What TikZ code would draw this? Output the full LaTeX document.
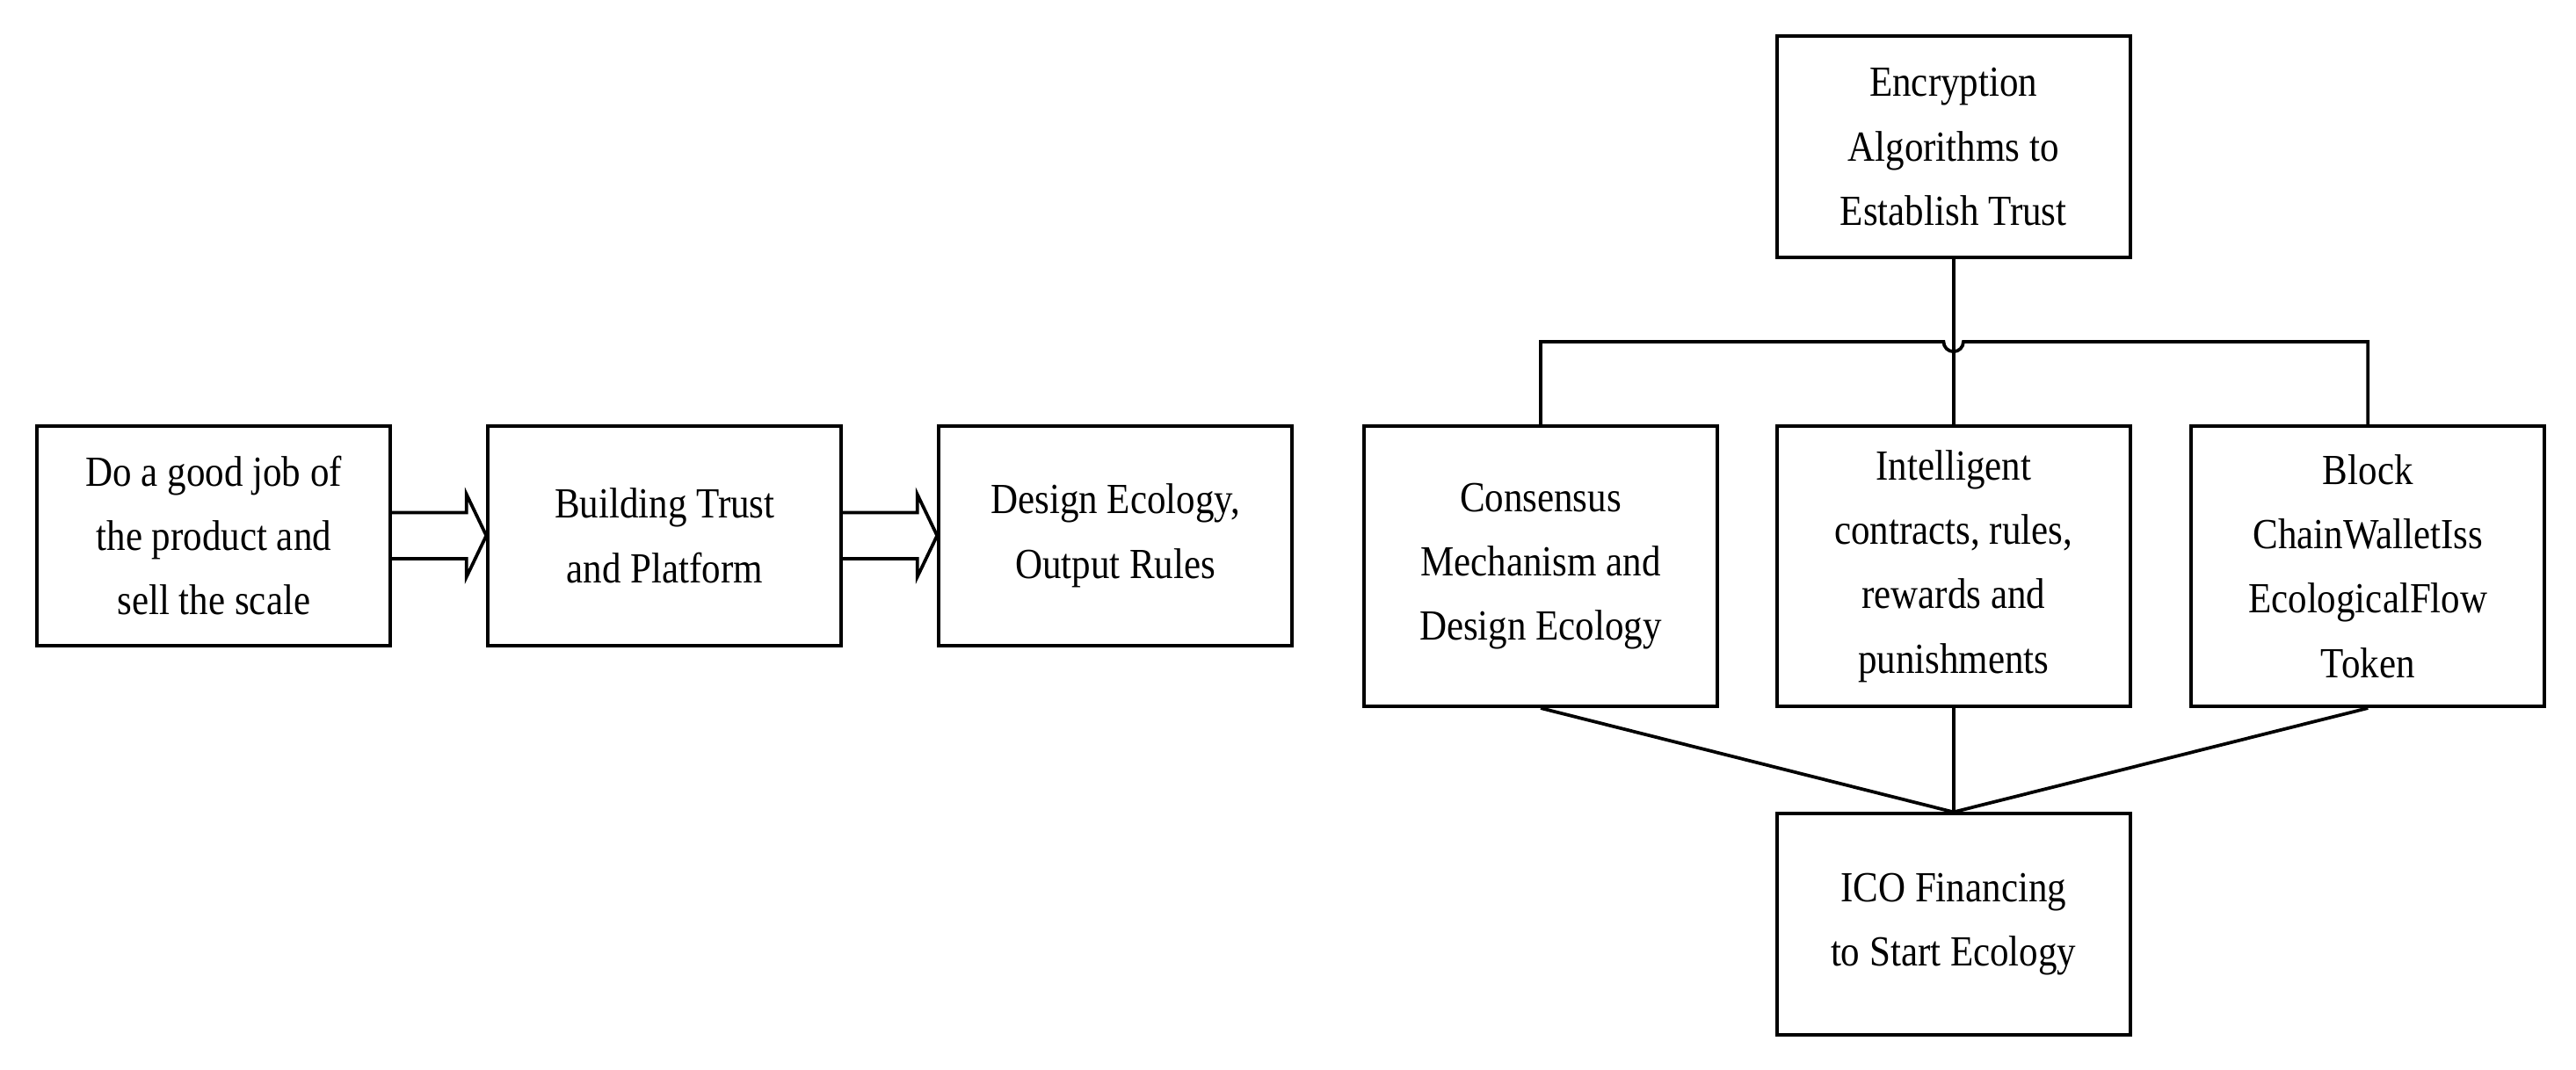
\documentclass[tikz,border=0pt]{standalone}
\usepackage{fontspec}
\setmainfont{Liberation Serif}[FakeStretch=0.88]
\usetikzlibrary{calc}
\begin{document}
\begin{tikzpicture}[x=1pt,y=-1pt,
  box/.style={draw,line width=2pt,minimum width=214pt,align=center,font=\fontsize{26}{39}\selectfont,inner sep=0pt},
  ln/.style={line width=2pt}]
\useasboundingbox (0,0) rectangle (1560,648);
\node[box,minimum height=133pt] (b1) at (129.5,324.5) {Do a good job of\\the product and\\sell the scale};
\node[box,minimum height=133pt] (b2) at (402.5,324.5) {Building Trust\\and Platform};
\node[box,minimum height=133pt] (b3) at (675.5,324.5) {Design Ecology,\\Output Rules};
\node[box,minimum height=134pt] (top) at (1183,89) {Encryption\\Algorithms to\\Establish Trust};
\node[box,minimum height=170pt] (A) at (933,343) {Consensus\\Mechanism and\\Design Ecology};
\node[box,minimum height=170pt] (B) at (1183,343) {Intelligent\\contracts, rules,\\rewards and\\punishments};
\node[box,minimum height=170pt] (C) at (1434,343) {Block\\ChainWalletIss\\EcologicalFlow\\Token};
\node[box,minimum height=134pt] (bot) at (1183,560) {ICO Financing\\to Start Ecology};
% double arrows
\foreach \s/\t in {b1/b2,b2/b3}{
  \draw[ln] ($(\s.east)+(0,-14)$) -| ($(\t.west)+(-12,-25)$) -- (\t.west) -- ($(\t.west)+(-12,25)$) |- ($(\s.east)+(0,14)$);
}
% tree
\coordinate (j) at (1183,207);
\draw[ln] (A.north) |- ($(j)+(-6,0)$) arc[start angle=180,end angle=0,radius=6] -- (C.north |- j) -- (C.north);
\draw[ln] (top.south) -- (B.north);
\draw[ln] (A.south) -- (bot.north);
\draw[ln] (B.south) -- (bot.north);
\draw[ln] (C.south) -- (bot.north);
\end{tikzpicture}
\end{document}
